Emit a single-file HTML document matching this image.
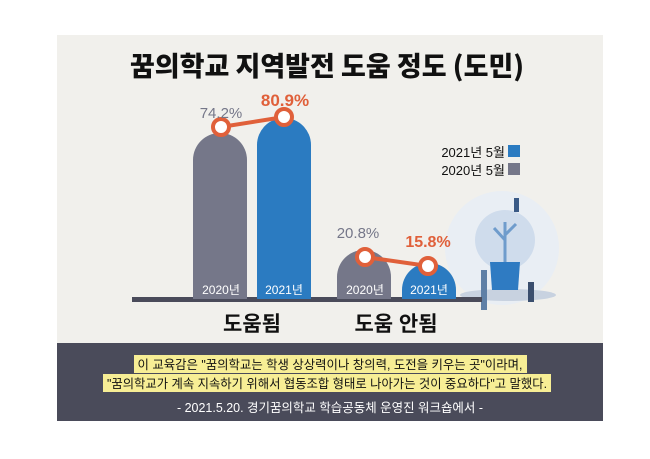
<!DOCTYPE html>
<html><head><meta charset="utf-8"><style>
body{margin:0;background:#fff;width:650px;height:459px;overflow:hidden;font-family:"Liberation Sans","Noto Sans CJK KR",sans-serif}
</style></head><body>
<svg width="650" height="459" xmlns="http://www.w3.org/2000/svg" style="position:absolute;left:0;top:0">
<rect x="57" y="35" width="546" height="309" fill="#f1f0ec"/>
<rect x="57" y="343" width="546" height="78" fill="#4a4b5a"/>
<text x="327" y="76" text-anchor="middle" font-size="27" font-weight="900" fill="#111" font-family="Noto Sans CJK KR,sans-serif">꿈의학교 지역발전 도움 정도 (도민)</text>
<!-- bulb -->
<circle cx="502" cy="248" r="57" fill="#e9eef4"/>
<ellipse cx="508" cy="295" rx="48" ry="6" fill="#c8d2e0"/>
<circle cx="505" cy="240" r="30" fill="#cfdcec"/>
<path d="M490 262 L520 262 L518 290 L492 290Z" fill="#2f7bc2"/>
<path d="M505 262 L505 222 M505 240 L494 228 M505 235 L516 224" stroke="#6f9ccc" stroke-width="3" fill="none"/>
<rect x="481" y="270" width="6" height="40" fill="#5e7fa6"/>
<rect x="528" y="282" width="6" height="20" fill="#3a4e6e"/>
<rect x="514" y="198" width="5" height="14" fill="#3a5a86"/>
<!-- baseline -->
<rect x="132" y="297" width="350" height="5" fill="#4a4b5a"/>
<!-- bars -->
<path d="M193 299 V160 a27 27 0 0 1 54 0 V299Z" fill="#757789"/>
<path d="M257 299 V145 a27 27 0 0 1 54 0 V299Z" fill="#2b7bc1"/>
<path d="M337 299 V277 a27 27 0 0 1 54 0 V299Z" fill="#757789"/>
<path d="M402 299 V290 a27 27 0 0 1 54 0 V299Z" fill="#2b7bc1"/>
<line x1="221" y1="127" x2="284" y2="117" stroke="#e0603a" stroke-width="4"/>
<line x1="365" y1="257" x2="428" y2="266" stroke="#e0603a" stroke-width="4"/>
<g fill="#fff" stroke="#e0603a" stroke-width="4">
<circle cx="221" cy="127" r="8"/><circle cx="284" cy="117" r="8"/>
<circle cx="365" cy="257" r="8"/><circle cx="428" cy="266" r="8"/></g>
<g font-size="15" text-anchor="middle">
<text x="221" y="118" fill="#757789">74.2%</text>
<text x="285" y="106" fill="#e0603a" font-size="17" font-weight="bold">80.9%</text>
<text x="358" y="238" fill="#757789">20.8%</text>
<text x="428" y="247" fill="#e0603a" font-size="16" font-weight="bold">15.8%</text>
</g>
<g font-size="12" fill="#fff" text-anchor="middle">
<text x="221" y="294">2020년</text><text x="284" y="294">2021년</text>
<text x="365" y="294">2020년</text><text x="429" y="294">2021년</text>
</g>
<g font-size="21" font-weight="bold" fill="#111" text-anchor="middle">
<text x="252" y="331">도움됨</text><text x="396" y="331">도움 안됨</text>
</g>
<g font-size="13" fill="#111" text-anchor="end">
<text x="505" y="157">2021년 5월</text><text x="505" y="175">2020년 5월</text></g>
<rect x="508" y="145" width="12" height="12" fill="#2b7bc1"/>
<rect x="508" y="163" width="12" height="12" fill="#757789"/>
<rect x="134" y="355" width="393" height="18" fill="#f7ee95"/>
<rect x="103" y="374" width="448" height="18" fill="#f7ee95"/>
<g font-size="12.5" text-anchor="middle">
<text x="330" y="369" fill="#111" textLength="385" lengthAdjust="spacingAndGlyphs">이 교육감은 "꿈의학교는 학생 상상력이나 창의력, 도전을 키우는 곳"이라며,</text>
<text x="327" y="388" fill="#111" textLength="440" lengthAdjust="spacingAndGlyphs">"꿈의학교가 계속 지속하기 위해서 협동조합 형태로 나아가는 것이 중요하다"고 말했다.</text>
<text x="330" y="412" fill="#fff" textLength="306" lengthAdjust="spacingAndGlyphs">- 2021.5.20. 경기꿈의학교 학습공동체 운영진 워크숍에서 -</text>
</g>
</svg>
</body></html>
